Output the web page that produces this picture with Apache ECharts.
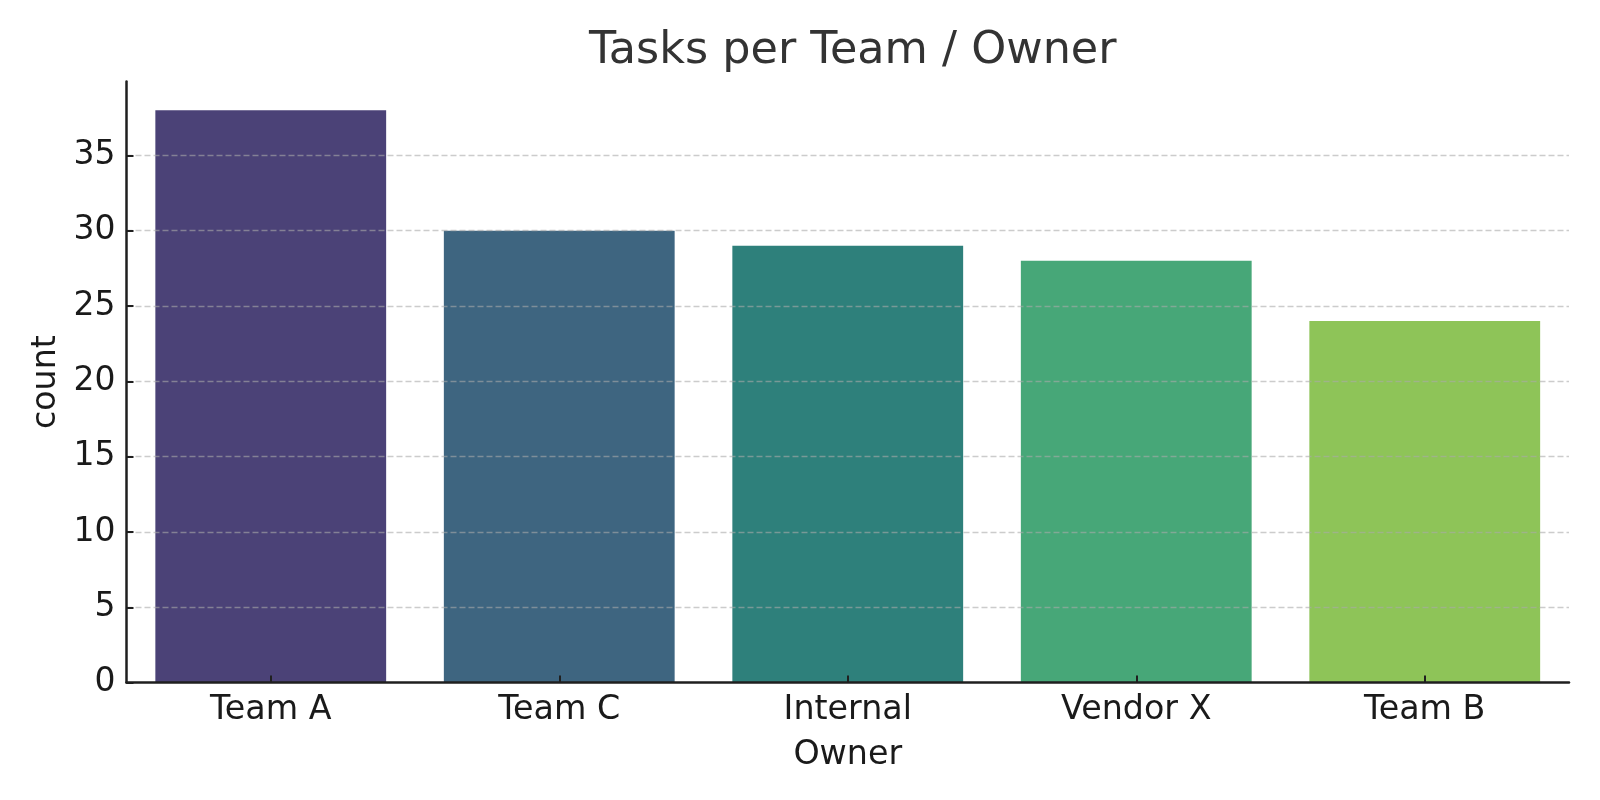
<!DOCTYPE html>
<html>
<head>
<meta charset="utf-8">
<script src="https://cdn.jsdelivr.net/npm/echarts@6/dist/echarts.min.js"></script>
<style>
html,body{margin:0;padding:0;background:#fff;}
#chart{width:1600px;height:800px;}
</style>
</head>
<body>
<div id="chart"></div>
<script>
const categories = ['Team A', 'Team C', 'Internal', 'Vendor X', 'Team B'];
const counts = [38, 30, 29, 28, 24];
const barColors = ['#4b4277', '#3e6580', '#2e807b', '#47a778', '#8ec458'];
const yTicks = [0, 5, 10, 15, 20, 25, 30, 35];
const titleText = 'Tasks per Team / Owner';
const xName = 'Owner';
const yName = 'count';

const font = 'DejaVu Sans';
const yMin = 0, yMax = 39.9, yStep = 5;
const chart = echarts.init(document.getElementById('chart'), null, {renderer: 'canvas'});
chart.setOption({
  backgroundColor: '#ffffff',
  animation: false,
  title: {
    text: titleText,
    left: 847.7,
    textAlign: 'center',
    top: 24,
    textStyle: {fontFamily: font, fontSize: 44.5, fontWeight: 'normal', color: '#333333'}
  },
  grid: {left: 126.5, right: 31, top: 81.6, bottom: 117.4, containLabel: false},
  xAxis: {
    type: 'category',
    data: categories,
    z: 4,
    name: xName,
    nameLocation: 'middle',
    nameGap: 56,
    nameTextStyle: {fontFamily: font, fontSize: 33.3, color: '#1a1a1a'},
    axisLine: {show: true, lineStyle: {color: '#1f1f1f', width: 2.5}},
    axisTick: {show: true, inside: true, alignWithLabel: true, length: 7, lineStyle: {color: '#1f1f1f', width: 2}},
    axisLabel: {fontFamily: font, fontSize: 33.3, color: '#1a1a1a', margin: 11},
    splitLine: {show: false}
  },
  yAxis: [{
    type: 'value',
    min: yMin, max: yMax, interval: yStep,
    position: 'left', offset: 0,
    z: 3,
    axisLine: {show: false},
    axisTick: {show: false},
    axisLabel: {show: false},
    splitLine: {show: true, showMinLine: false, showMaxLine: false, lineStyle: {color: 'rgba(170,170,170,0.6)', width: 1.3, type: [6, 3]}}
  }, {
    type: 'value',
    min: yMin, max: yMax, interval: yStep,
    position: 'left', offset: 0,
    z: 4,
    name: yName,
    nameLocation: 'middle',
    nameGap: 56,
    nameTextStyle: {fontFamily: font, fontSize: 33.3, color: '#1a1a1a'},
    axisLine: {show: true, lineStyle: {color: '#1f1f1f', width: 2.5}},
    axisTick: {show: true, inside: true, length: 7, lineStyle: {color: '#1f1f1f', width: 2}, customValues: yTicks},
    axisLabel: {fontFamily: font, fontSize: 33, color: '#1a1a1a', margin: 11, customValues: yTicks},
    splitLine: {show: false}
  }],
  series: [{
    type: 'bar',
    yAxisIndex: 0,
    data: counts.map((v, i) => ({value: v, itemStyle: {color: barColors[i]}})),
    barCategoryGap: '20%',
    z: 2
  }]
});
</script>
</body>
</html>
